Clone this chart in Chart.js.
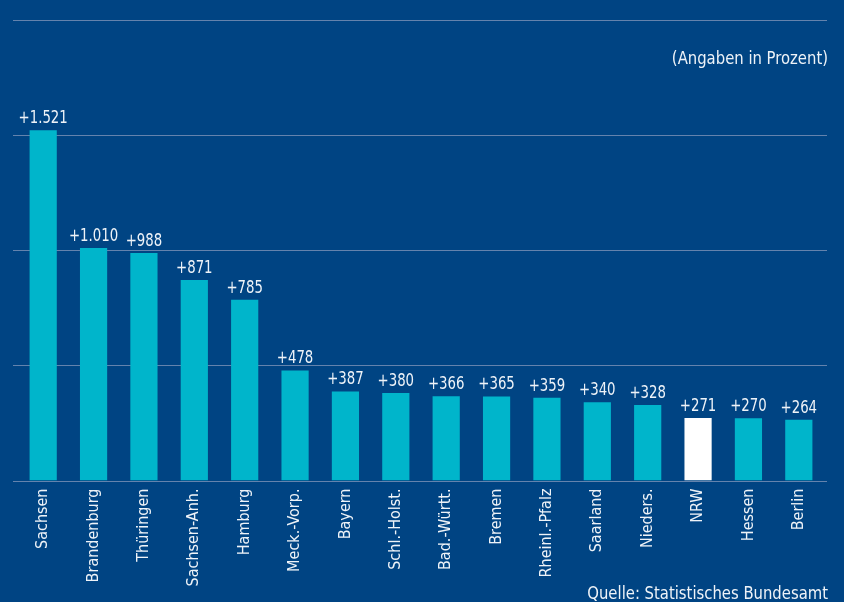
<!DOCTYPE html>
<html>
<head>
<meta charset="utf-8">
<script src="https://cdn.jsdelivr.net/npm/chart.js@4/dist/chart.umd.min.js"></script>
<style>
  html, body { margin: 0; padding: 0; background: #004483; }
  #wrap { width: 844px; height: 602px; }
</style>
</head>
<body>
<div id="wrap"><canvas id="chart1" width="844" height="602"></canvas></div>
<script>
// Bundesländer, sorted by growth
let labels = [ 'Sachsen', 'Brandenburg', 'Thüringen', 'Sachsen-Anh.', 'Hamburg', 'Meck.-Vorp.', 'Bayern',
  'Schl.-Holst.', 'Bad.-Württ.', 'Bremen', 'Rheinl.-Pfalz', 'Saarland', 'Nieders.', 'NRW', 'Hessen', 'Berlin' ];

// values (Angaben in Prozent)
let values = [ 1521, 1010, 988, 871, 785, 478, 387, 380, 366, 365, 359, 340, 328, 271, 270, 264 ];

// which bar gets the highlight colour
let highlight = 'NRW';

let note = '(Angaben in Prozent)';
let source = 'Quelle: Statistisches Bundesamt';

let FONT = '"DejaVu Sans Condensed", "DejaVu Sans", sans-serif';
let TEXT = '#eef3f8';
let GRID = '#6483ad';

// german number style: +1.521
function fmt(v) {
  return '+' + String(v).replace(/\B(?=(\d{3})+(?!\d))/g, '.');
}

// draw text squeezed a bit sideways (the original uses a narrow font)
function squeezed(ctx, txt, x, y, sx) {
  ctx.save();
  ctx.translate(x, y);
  ctx.scale(sx, 1);
  ctx.fillText(txt, 0, 0);
  ctx.restore();
}

let extras = {
  id: 'extras',
  beforeDatasetsDraw(chart) {
    let ctx = chart.ctx;
    let y = chart.scales.y;
    ctx.save();
    ctx.strokeStyle = GRID;
    ctx.lineWidth = 1;
    y.ticks.forEach(t => {
      let py = Math.round(y.getPixelForValue(t.value)) + 0.5;
      ctx.beginPath();
      ctx.moveTo(13, py);
      ctx.lineTo(827, py);
      ctx.stroke();
    });
    ctx.restore();
  },
  afterDatasetsDraw(chart) {
    let ctx = chart.ctx;
    let meta = chart.getDatasetMeta(0);
    ctx.save();
    ctx.fillStyle = TEXT;
    ctx.font = '17px ' + FONT;
    ctx.textAlign = 'center';
    ctx.textBaseline = 'alphabetic';
    meta.data.forEach((bar, i) => {
      squeezed(ctx, fmt(values[i]), bar.x, bar.y - 7, 0.87);
    });
    ctx.textAlign = 'right';
    squeezed(ctx, note, 828, 64, 0.97);
    squeezed(ctx, source, 828, 599, 0.97);
    ctx.restore();
  }
};

let options = {
  type: 'bar',
  data: {
    labels: labels,
    datasets: [
      {
        data: values,
        backgroundColor: labels.map(l => l === highlight ? '#ffffff' : '#00b5cb'),
        borderWidth: 0,
        barPercentage: 0.54,
        categoryPercentage: 1
      }
    ]
  },
  options: {
    responsive: false,
    animation: false,
    layout: { padding: { top: 20, left: 18, right: 20, bottom: 0 } },
    plugins: {
      legend: { display: false },
      tooltip: { enabled: false }
    },
    scales: {
      x: {
        grid: { display: false, drawTicks: false },
        border: { display: false },
        ticks: {
          color: TEXT,
          font: { family: FONT, size: 16 },
          minRotation: 90,
          maxRotation: 90,
          padding: 8,
          autoSkip: false
        },
        afterFit(axis) { axis.height = 121.5; }
      },
      y: {
        min: 0,
        max: 2000,
        grid: { display: false, drawTicks: false },
        border: { display: false },
        ticks: { display: false, stepSize: 500 },
        afterFit(axis) { axis.width = 0; }
      }
    }
  },
  plugins: [ extras ]
};

let chart = new Chart(document.getElementById('chart1'), options);
</script>
</body>
</html>
